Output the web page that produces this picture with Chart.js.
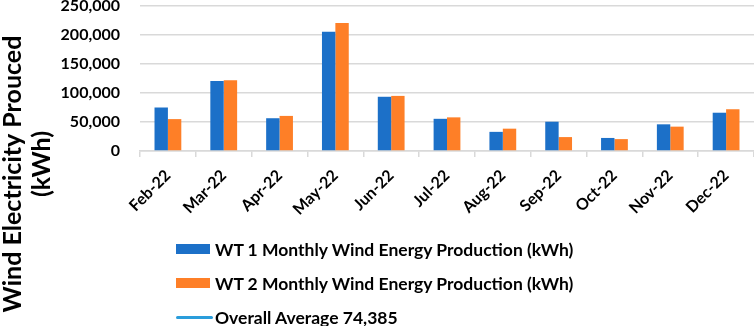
<!DOCTYPE html>
<html>
<head>
<meta charset="utf-8">
<script src="https://cdn.jsdelivr.net/npm/chart.js@4/dist/chart.umd.min.js"></script>
<style>
    body { margin: 0; background: #fff; }
    #wrap { position: relative; width: 754px; height: 326px; overflow: hidden; }
    #legend { position: absolute; left: 176px; top: 232px; font: bold 17.5px Lato, sans-serif; color: #000; }
    .item { display: flex; align-items: center; height: 34px; }
    .swatch { width: 34px; height: 10px; margin-right: 5px; }
    .swatch.line { width: 37px; height: 3px; border-radius: 2px; margin-right: 2px; }
</style>
</head>
<body>
<div id="wrap">
    <canvas id="chart" width="754" height="326"></canvas>
    <div id="legend"></div>
</div>
<script>
const months = ['Feb-22', 'Mar-22', 'Apr-22', 'May-22', 'Jun-22', 'Jul-22', 'Aug-22', 'Sep-22', 'Oct-22', 'Nov-22', 'Dec-22'];
const wt1 = [75000, 120500, 56500, 205500, 93500, 55500, 33000, 50500, 22500, 46000, 66000];
const wt2 = [55000, 122000, 60500, 220500, 95000, 58000, 38500, 24000, 20500, 42000, 72000];
const overallAverage = []; // shown only in the legend, as in the original
const yTicks = [0, 50000, 100000, 150000, 200000, 250000];

const titleLines = ['Wind Electricity Prouced', '(kWh)'];

// titre vertical sur toute la hauteur
const sideTitle = {
    id: 'sideTitle',
    afterDraw(chart) {
        const ctx = chart.ctx;
        ctx.save();
        ctx.fillStyle = '#000';
        ctx.font = 'bold 25px Lato, sans-serif';
        ctx.textAlign = 'center';
        ctx.textBaseline = 'middle';
        ctx.translate(13, 174);
        ctx.rotate(-Math.PI / 2);
        ctx.fillText(titleLines[0], 0, 0);
        ctx.fillText(titleLines[1], 10, 29);
        ctx.restore();
    }
};

const chart = new Chart(document.getElementById('chart'), {
    type: 'bar',
    data: {
        labels: months,
        datasets: [{
            label: 'WT 1 Monthly Wind Energy Production (kWh)',
            data: wt1,
            backgroundColor: '#1c70c8',
            categoryPercentage: 0.48,
            barPercentage: 1
        }, {
            label: 'WT 2 Monthly Wind Energy Production (kWh)',
            data: wt2,
            backgroundColor: '#fe7f27',
            categoryPercentage: 0.48,
            barPercentage: 1
        }, {
            type: 'line',
            label: 'Overall Average 74,385',
            data: overallAverage,
            borderColor: '#2a9ddb',
            borderWidth: 3,
            pointRadius: 0
        }]
    },
    options: {
        responsive: false,
        animation: false,
        layout: { padding: { top: 6, left: 50, right: 0, bottom: 0 } },
        plugins: {
            legend: { display: false },
            tooltip: { enabled: false }
        },
        scales: {
            x: {
                grid: { drawOnChartArea: false, color: '#d9d9d9', tickLength: 6, lineWidth: 1.5 },
                border: { color: '#d9d9d9', width: 1.5 },
                ticks: {
                    color: '#000',
                    font: { family: 'Lato', weight: 'bold', size: 16 },
                    maxRotation: 45,
                    minRotation: 45,
                    padding: 9
                },
                afterFit: (scale) => { scale.height = 175; }
            },
            y: {
                min: 0,
                max: 250000,
                afterBuildTicks: (scale) => { scale.ticks = yTicks.map(v => ({ value: v })); },
                grid: { color: '#d9d9d9', lineWidth: 1.5, drawTicks: false },
                border: { display: false },
                ticks: {
                    color: '#000',
                    font: { family: 'Lato', weight: 'bold', size: 16 },
                    padding: 20,
                    callback: (v) => v.toLocaleString('en-US')
                },
                afterFit: (scale) => { scale.width = 90; scale.paddingTop = 0; }
            }
        }
    },
    plugins: [sideTitle]
});

// légende verticale en HTML
const legend = document.getElementById('legend');
chart.data.datasets.forEach(ds => {
    const row = document.createElement('div');
    row.className = 'item';
    const sw = document.createElement('span');
    sw.className = ds.type === 'line' ? 'swatch line' : 'swatch';
    sw.style.background = ds.type === 'line' ? ds.borderColor : ds.backgroundColor;
    const txt = document.createElement('span');
    txt.textContent = ds.label;
    row.appendChild(sw);
    row.appendChild(txt);
    legend.appendChild(row);
});
</script>
</body>
</html>
